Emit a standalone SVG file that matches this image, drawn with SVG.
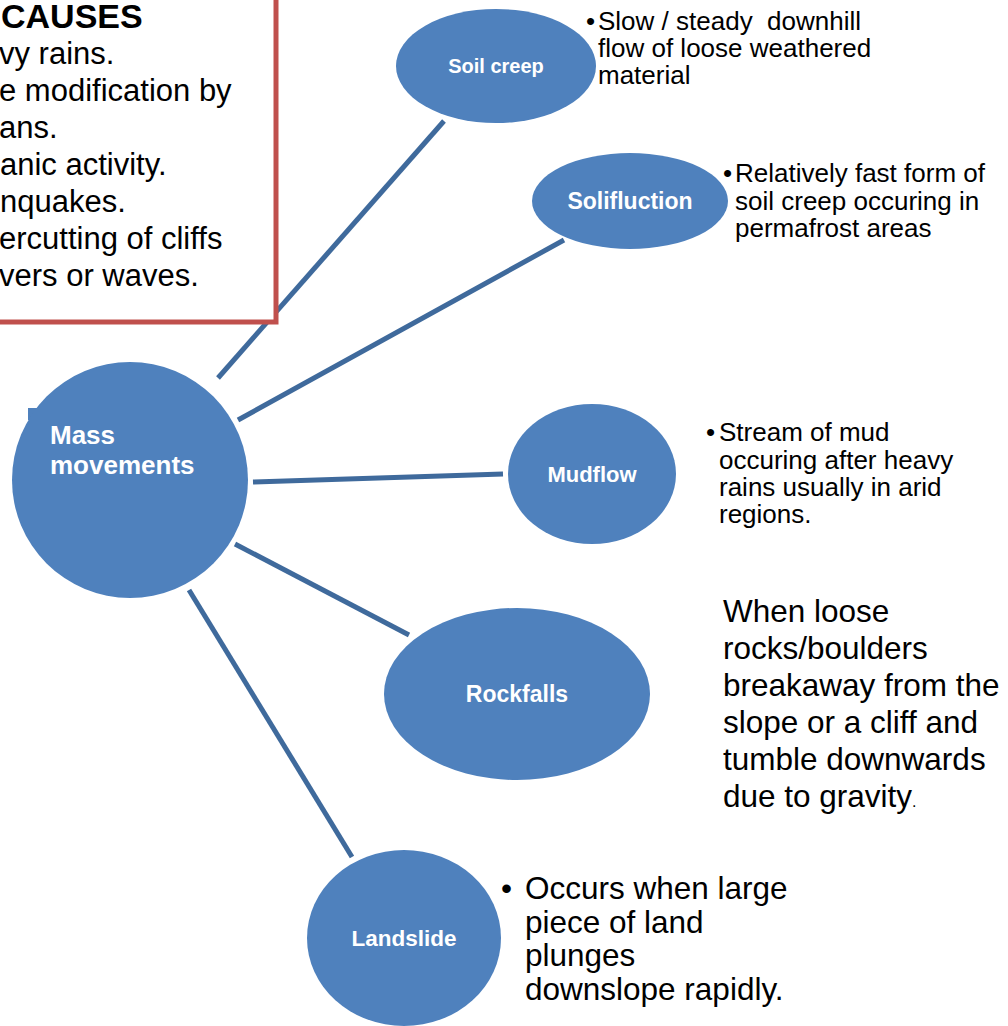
<svg xmlns="http://www.w3.org/2000/svg" width="1008" height="1026" viewBox="0 0 1008 1026">
<style>
.node{fill:#4F81BD;}
.lbl{font-family:"Liberation Sans",Arial,sans-serif;font-weight:bold;fill:#FFFFFF;}
.desc{font-family:"Liberation Sans",Arial,sans-serif;fill:#000000;}
.conn line{stroke:#3F6A9C;stroke-width:5;}
</style>
<rect width="1008" height="1026" fill="#FFFFFF"/>
<g id="connectors" class="conn">
<line x1="218" y1="378" x2="444" y2="121"/>
<line x1="238" y1="420" x2="564" y2="240"/>
<line x1="253" y1="482" x2="503" y2="474"/>
<line x1="235" y1="544" x2="409" y2="635"/>
<line x1="189" y1="590" x2="352" y2="857"/>
</g>
<g id="causes">
<rect x="-10" y="-10" width="286" height="332" fill="#FFFFFF" stroke="#C0504D" stroke-width="5"/>
<text class="desc" x="1" y="28" font-size="34" font-weight="bold">CAUSES</text>
<text class="desc" font-size="31">
<tspan x="-1" y="64">vy rains.</tspan>
<tspan x="-1" y="101">e modification by</tspan>
<tspan x="-1" y="138">ans.</tspan>
<tspan x="0" y="175">anic activity.</tspan>
<tspan x="0" y="212">nquakes.</tspan>
<tspan x="-1" y="249">ercutting of cliffs</tspan>
<tspan x="-1" y="286">vers or waves.</tspan>
</text>
</g>
<g id="mass-movements">
<rect class="node" x="28" y="408" width="10" height="12"/>
<circle class="node" cx="130" cy="480" r="118"/>
<text class="lbl" font-size="26"><tspan x="50" y="444">Mass</tspan><tspan x="50" y="474">movements</tspan></text>
</g>
<g id="soil-creep">
<ellipse class="node" cx="496" cy="66" rx="100" ry="57"/>
<text class="lbl" x="496" y="73" font-size="20" text-anchor="middle">Soil creep</text>
<text class="desc" font-size="26" xml:space="preserve"><tspan x="586" y="30">•</tspan><tspan x="598" y="30">Slow / steady  downhill</tspan><tspan x="598" y="57">flow of loose weathered</tspan><tspan x="598" y="84">material</tspan></text>
</g>
<g id="solifluction">
<ellipse class="node" cx="630" cy="201" rx="98" ry="48"/>
<text class="lbl" x="630" y="209" font-size="23" text-anchor="middle">Solifluction</text>
<text class="desc" font-size="26"><tspan x="723" y="182">•</tspan><tspan x="735" y="182">Relatively fast form of</tspan><tspan x="735" y="210">soil creep occuring in</tspan><tspan x="735" y="237">permafrost areas</tspan></text>
</g>
<g id="mudflow">
<ellipse class="node" cx="592" cy="474" rx="84" ry="70"/>
<text class="lbl" x="592" y="482" font-size="22" text-anchor="middle">Mudflow</text>
<text class="desc" font-size="26"><tspan x="706" y="441">•</tspan><tspan x="719" y="441">Stream of mud</tspan><tspan x="719" y="469">occuring after heavy</tspan><tspan x="719" y="496">rains usually in arid</tspan><tspan x="719" y="523">regions.</tspan></text>
</g>
<g id="rockfalls">
<ellipse class="node" cx="517" cy="694" rx="133" ry="86"/>
<text class="lbl" x="517" y="702" font-size="23" text-anchor="middle">Rockfalls</text>
<text class="desc" font-size="31.5"><tspan x="723" y="622">When loose</tspan><tspan x="723" y="659">rocks/boulders</tspan><tspan x="723" y="696">breakaway from the</tspan><tspan x="723" y="733">slope or a cliff and</tspan><tspan x="723" y="770">tumble downwards</tspan><tspan x="723" y="807">due to gravity<tspan font-size="16">.</tspan></tspan></text>
</g>
<g id="landslide">
<ellipse class="node" cx="404" cy="938" rx="97" ry="88"/>
<text class="lbl" x="404" y="946" font-size="22.5" text-anchor="middle">Landslide</text>
<text class="desc" font-size="31.5"><tspan x="501" y="899">•</tspan><tspan x="525" y="899">Occurs when large</tspan><tspan x="525" y="933">piece of land</tspan><tspan x="525" y="966">plunges</tspan><tspan x="525" y="1000">downslope rapidly.</tspan></text>
</g>
</svg>
